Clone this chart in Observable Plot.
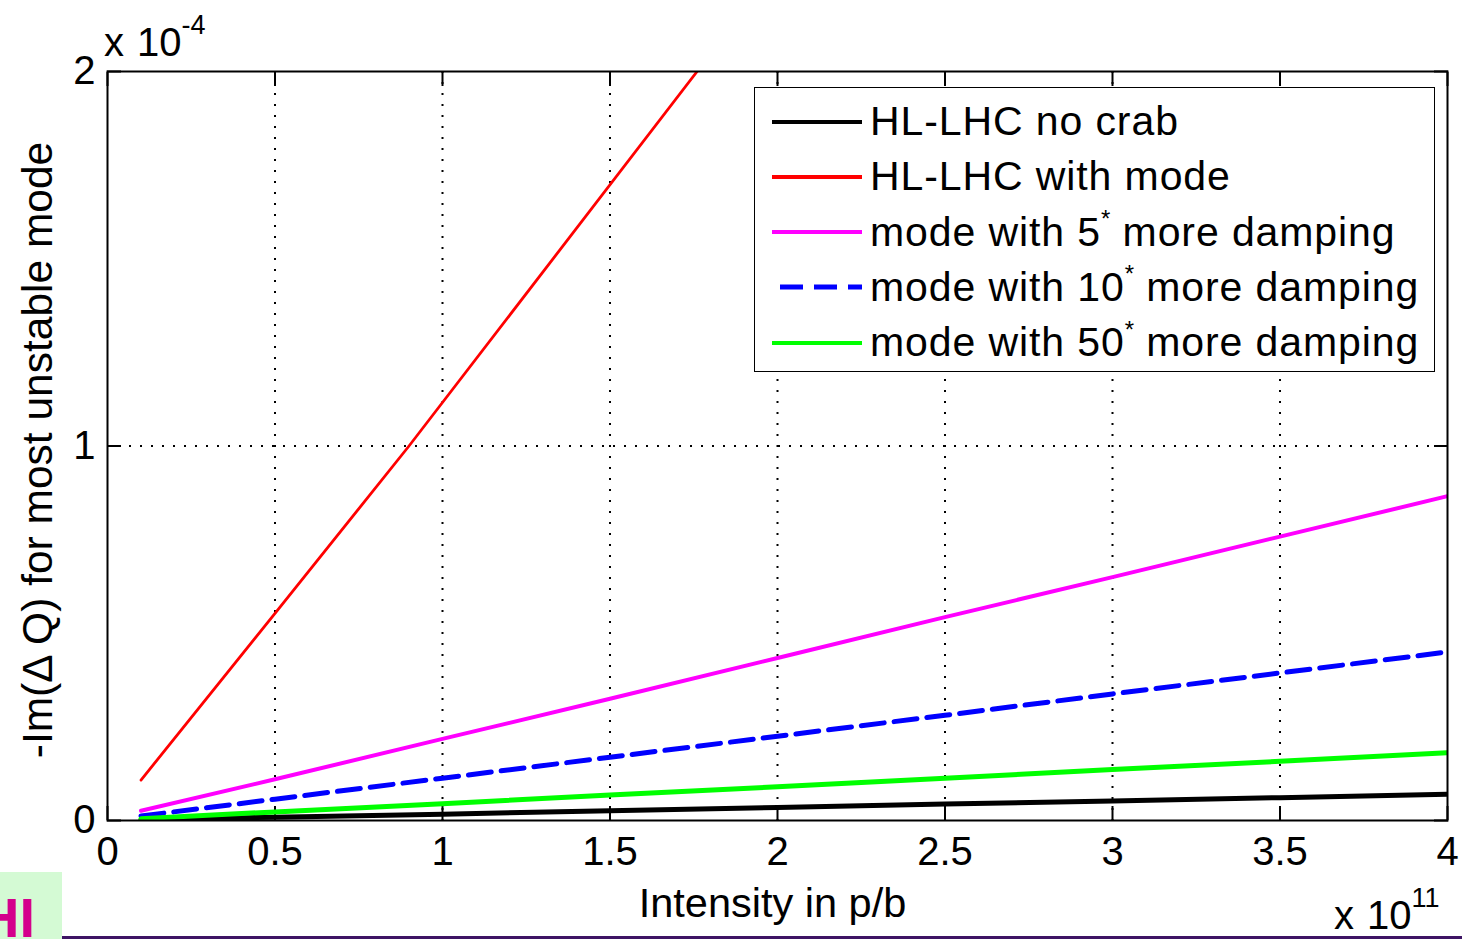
<!DOCTYPE html>
<html>
<head>
<meta charset="utf-8">
<script src="https://cdn.jsdelivr.net/npm/d3@7"></script>
<script src="https://cdn.jsdelivr.net/npm/@observablehq/plot@0.6"></script>
<style>
  html, body { margin: 0; padding: 0; background: #fff; }
  #wrap { position: relative; width: 1462px; height: 939px; overflow: hidden; font-family: "Liberation Sans", Arial, sans-serif; }
  .ann { position: absolute; color: #000; white-space: nowrap; line-height: 1; }
  .ann sup { font-size: 27px; position: relative; top: -8px; }
  #legend { position: absolute; left: 754px; top: 87px; width: 679px; height: 283px; border: 1.5px solid #000; background: #fff; }
  .row { position: absolute; left: 0; height: 55px; display: flex; align-items: center; font-size: 41px; letter-spacing: 0.9px; white-space: nowrap; }
  .row svg { width: 115px; height: 20px; flex: none; }
  .row sup { font-size: 24px; position: relative; top: -4px; letter-spacing: 0; }
  #badge { position: absolute; left: 0; top: 872px; width: 62px; height: 67px; background: #d4fad4; overflow: hidden; }
  #badge span { position: absolute; left: -21px; top: 18px; font: bold 56px "Liberation Sans", Arial, sans-serif; color: #d4008c; line-height: 1; }
  #rule { position: absolute; left: 62px; top: 936px; width: 1400px; height: 3px; background: #3e1464; }
</style>
</head>
<body>
<div id="wrap"></div>
<script>
// Intensity (units of 1e11 p/b) and -Im(dQ) (units of 1e-4)
const intensity = [0.1, 0.5, 1, 1.5, 2, 2.5, 3, 3.5, 4];
const redIntensity = [0.1, 0.5, 0.9, 1.3, 1.76, 1.85];
const withMode = [0.108, 0.553, 1.0, 1.465, 2.0, 2.105];
const noCrab = [0.002, 0.009, 0.017, 0.026, 0.035, 0.044, 0.052, 0.061, 0.070];
const damp5 = [0.026, 0.11, 0.218, 0.325, 0.434, 0.543, 0.65, 0.758, 0.866];
const damp10 = [0.012, 0.057, 0.113, 0.169, 0.225, 0.281, 0.338, 0.394, 0.450];
const damp50 = [0.005, 0.023, 0.045, 0.068, 0.09, 0.113, 0.136, 0.158, 0.181];
const xTicks = [0, 0.5, 1, 1.5, 2, 2.5, 3, 3.5, 4];
const yTicks = [0, 1, 2];
const seriesNames = ["HL-LHC no crab", "HL-LHC with mode", "mode with 5* more damping", "mode with 10* more damping", "mode with 50* more damping"];
const seriesColors = ["#000000", "#ff0000", "#ff00ff", "#0000ff", "#00ff00"];
const seriesWidths = [5, 2.8, 4, 5, 5];
const seriesDash = [null, null, null, "23,10", null];

const toRows = (xs, ys) => xs.map((x, i) => ({x, y: ys[i]}));
const series = [
  toRows(intensity, noCrab),
  toRows(redIntensity, withMode),
  toRows(intensity, damp5),
  toRows(intensity, damp10),
  toRows(intensity, damp50)
];

const fmt = d => String(d);

const chart = Plot.plot({
  width: 1462,
  height: 939,
  marginLeft: 107,
  marginRight: 15,
  marginTop: 71,
  marginBottom: 119,
  style: {fontFamily: "'Liberation Sans', Arial, sans-serif", fontSize: "40px", background: "#fff", color: "#000"},
  x: {domain: [0, 4]},
  y: {domain: [0, 2]},
  marks: [
    Plot.gridX(xTicks.slice(1, -1), {stroke: "#000", strokeOpacity: 1, strokeWidth: 2, strokeDasharray: "2,9"}),
    Plot.gridY(yTicks.slice(1, -1), {stroke: "#000", strokeOpacity: 1, strokeWidth: 2, strokeDasharray: "2,9"}),
    // inward tick marks on all four sides
    Plot.axisX(xTicks, {anchor: "bottom", tickSize: -14, strokeWidth: 2, text: null, label: null}),
    Plot.axisX(xTicks, {anchor: "top", tickSize: -14, strokeWidth: 2, text: null, label: null}),
    Plot.axisY(yTicks, {anchor: "left", tickSize: -14, strokeWidth: 2, text: null, label: null}),
    Plot.axisY(yTicks, {anchor: "right", tickSize: -14, strokeWidth: 2, text: null, label: null}),
    // tick labels
    Plot.axisX(xTicks, {anchor: "bottom", tickSize: 0, tickPadding: 16, tickFormat: fmt, label: null, fontSize: 40}),
    Plot.axisY(yTicks, {anchor: "left", tickSize: 0, tickPadding: 12, tickFormat: fmt, label: null, fontSize: 40}),
    ...series.map((data, i) => Plot.line(data, {
      x: "x", y: "y",
      stroke: seriesColors[i],
      strokeWidth: seriesWidths[i],
      strokeDasharray: seriesDash[i],
      clip: true
    })),
    Plot.frame({stroke: "#000", strokeWidth: 2}),
    Plot.text(["Intensity in p/b"], {frameAnchor: "bottom", dy: 96, dx: -5, fontSize: 41.5}),
    Plot.text(["-Im(\u0394 Q) for most unstable mode"], {frameAnchor: "left", textAnchor: "middle", rotate: -90, dx: -69, dy: 4, fontSize: 42.5})
  ]
});

const wrap = document.getElementById("wrap");
wrap.appendChild(chart);

// exponent annotations
const topExp = document.createElement("div");
topExp.className = "ann";
topExp.style.cssText = "left:104px; top:20px; font-size:40px; word-spacing:2px;";
topExp.innerHTML = "x 10<sup>-4</sup>";
wrap.appendChild(topExp);

const botExp = document.createElement("div");
botExp.className = "ann";
botExp.style.cssText = "left:1334px; top:893px; font-size:40px; word-spacing:2px;";
botExp.innerHTML = "x 10<sup>11</sup>";
wrap.appendChild(botExp);

// legend
const legend = document.createElement("div");
legend.id = "legend";
seriesNames.forEach((name, i) => {
  const row = document.createElement("div");
  row.className = "row";
  row.style.top = (6 + i * 55.3) + "px";
  const dashed = seriesDash[i] !== null;
  row.innerHTML =
    `<svg viewBox="0 0 115 20"><line x1="${dashed ? 25 : 17}" x2="107" y1="10" y2="10" stroke="${seriesColors[i]}" stroke-width="${i === 3 ? 5 : 4}" ${dashed ? 'stroke-dasharray="23,11"' : ""}/></svg><span>${name.replace("*", "<sup>*</sup>")}</span>`;
  legend.appendChild(row);
});
wrap.appendChild(legend);

const badge = document.createElement("div");
badge.id = "badge";
badge.innerHTML = "<span>HI</span>";
wrap.appendChild(badge);

const rule = document.createElement("div");
rule.id = "rule";
wrap.appendChild(rule);
</script>
</body>
</html>
